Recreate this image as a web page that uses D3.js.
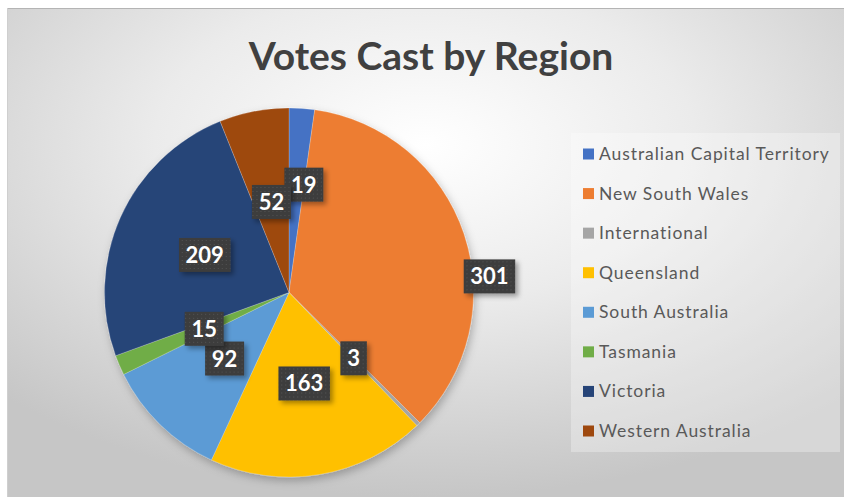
<!DOCTYPE html>
<html><head><meta charset="utf-8">
<script src="https://cdn.jsdelivr.net/npm/d3@7"></script>
<style>html,body{margin:0;padding:0;background:#fff;}svg{display:block;}</style>
</head><body>
<script>
const categories = ["Australian Capital Territory","New South Wales","International","Queensland","South Australia","Tasmania","Victoria","Western Australia"];
const votes = [19, 301, 3, 163, 92, 15, 209, 52];
const colors = ["#4472C4","#ED7D31","#A5A5A5","#FFC000","#5B9BD5","#70AD47","#264478","#9E480E"];
const title = "Votes Cast by Region";

const W = 844, H = 497;
const svg = d3.select("body").append("svg").attr("width", W).attr("height", H);
const defs = svg.append("defs");

const bg = defs.append("radialGradient").attr("id","bg").attr("cx","0.5").attr("cy","0.28").attr("r","0.72")
  .attr("gradientUnits","objectBoundingBox");
bg.append("stop").attr("offset","0").attr("stop-color","#ffffff");
bg.append("stop").attr("offset","0.45").attr("stop-color","#ebebeb");
bg.append("stop").attr("offset","1").attr("stop-color","#c6c6c6");

const sh = defs.append("filter").attr("id","sh").attr("x","-30%").attr("y","-30%").attr("width","160%").attr("height","160%");
sh.append("feDropShadow").attr("dx",3).attr("dy",3).attr("stdDeviation",2.5).attr("flood-color","#000").attr("flood-opacity",0.35);
const psh = defs.append("filter").attr("id","psh").attr("x","-20%").attr("y","-20%").attr("width","140%").attr("height","140%");
psh.append("feDropShadow").attr("dx",2).attr("dy",4).attr("stdDeviation",4).attr("flood-color","#000").attr("flood-opacity",0.25);

const pat = defs.append("pattern").attr("id","dots").attr("width",4).attr("height",4).attr("patternUnits","userSpaceOnUse");
pat.append("rect").attr("width",4).attr("height",4).attr("fill","#3d3d3d");
pat.append("rect").attr("x",1).attr("y",1).attr("width",1).attr("height",1).attr("fill","#555");

// chart area
svg.append("rect").attr("x",7).attr("y",8).attr("width",W-7).attr("height",H-8).attr("fill","url(#bg)");
svg.append("line").attr("x1",7).attr("x2",W).attr("y1",8.5).attr("y2",8.5).attr("stroke","#b4b4b4").attr("stroke-width",1);
svg.append("line").attr("x1",7.5).attr("x2",7.5).attr("y1",8).attr("y2",H).attr("stroke","#cfcfcf").attr("stroke-width",1);

svg.append("text").attr("x",431).attr("y",70).attr("text-anchor","middle")
  .attr("font-family","Lato, 'Open Sans', sans-serif").attr("font-weight","bold").attr("font-size",39)
  .attr("fill","#404040").text(title);

// pie
const cx = 289, cy = 292.5, R = 184.5;
const pie = d3.pie().sort(null).value(d => d)(votes);
const arc = d3.arc().innerRadius(0).outerRadius(R);
const g = svg.append("g").attr("transform",`translate(${cx},${cy})`);
const slices = g.append("g").attr("filter","url(#psh)");
slices.selectAll("path").data(pie).join("path")
  .attr("d", arc).attr("fill",(d,i)=>colors[i]).attr("stroke","rgba(255,255,255,0.35)").attr("stroke-width",0.6);

// labels: centroid at half radius, with nudges for crowded/large slices
const labelArc = d3.arc().innerRadius(R*0.5).outerRadius(R*0.5);
function labelPos(d, i) {
  if (i === 1) { // NSW: outside end near right edge
    const a = d.startAngle + (d.endAngle - d.startAngle) * 0.61;
    const r = R * 1.09;
    return [Math.sin(a)*r, -Math.cos(a)*r];
  }
  if (i === 0) { // ACT: nudged to avoid WA label
    const a = d.endAngle - 0.003;
    const r = R * 0.59;
    return [Math.sin(a)*r, -Math.cos(a)*r];
  }
  return labelArc.centroid(d);
}
const lab = g.append("g").selectAll("g").data(pie).join("g")
  .attr("transform",(d,i)=>{const p=labelPos(d,i);return `translate(${p[0]},${p[1]})`;});
lab.each(function(d){
  const s = d3.select(this);
  const t = String(d.data);
  const w = 14 + t.length*12.5;
  s.append("rect").attr("x",-w/2).attr("y",-17).attr("width",w).attr("height",34)
    .attr("fill","url(#dots)").attr("filter","url(#sh)");
  s.append("text").attr("text-anchor","middle").attr("y",8)
    .attr("font-family","Lato, 'Open Sans', sans-serif").attr("font-weight","bold").attr("font-size",22)
    .attr("fill","#ffffff").text(t);
});

// legend
const lx = 571, ly = 133;
svg.append("rect").attr("x",lx).attr("y",ly).attr("width",840-lx).attr("height",452-ly)
  .attr("fill","#ffffff").attr("fill-opacity",0.3);
const rowY = d3.scalePoint().domain(categories).range([154, 431]);
const leg = svg.append("g").selectAll("g").data(categories).join("g")
  .attr("transform", d => `translate(583,${rowY(d)})`);
leg.append("rect").attr("x",0).attr("y",-5.5).attr("width",11).attr("height",11).attr("fill",(d,i)=>colors[i]);
const lt = leg.append("text").attr("x",16).attr("y",6).attr("font-family","Lato, sans-serif").attr("font-size",17)
  .attr("letter-spacing",0.9)
  .attr("fill","#595959").text(d=>d);
// fit the longest legend entry to the reference width
const longest = d3.max(lt.nodes(), n => n.getComputedTextLength());
if (longest > 0) {
  const fs = 17 * 231 / longest;
  lt.attr("font-size", Math.min(fs, 19)).attr("letter-spacing", 0.9 * Math.min(fs,19)/17);
}
</script>
</body></html>
